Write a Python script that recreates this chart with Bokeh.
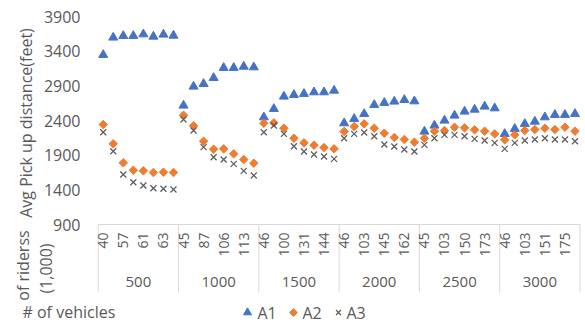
import math
from bokeh.plotting import figure
from bokeh.models import Range1d
from bokeh.core.properties import value
from bokeh.embed import file_html
from bokeh.resources import INLINE

# ---- data ----
groups = ["500", "1000", "1500", "2000", "2500", "3000"]
vehicle_labels = [
    ["40", "57", "61", "63"],
    ["45", "87", "106", "113"],
    ["46", "100", "131", "144"],
    ["46", "103", "145", "162"],
    ["45", "103", "150", "173"],
    ["46", "103", "151", "175"],
]
a1 = [3347, 3597, 3621, 3621, 3644, 3611, 3640, 3625,
      2616, 2890, 2929, 3015, 3160, 3160, 3178, 3168,
      2447, 2568, 2746, 2770, 2785, 2808, 2808, 2832,
      2361, 2424, 2496, 2626, 2655, 2674, 2698, 2678,
      2241, 2328, 2400, 2472, 2530, 2558, 2602, 2577,
      2207, 2280, 2352, 2385, 2447, 2482, 2482, 2496]
a2 = [2342, 2064, 1790, 1683, 1674, 1650, 1654, 1650,
      2476, 2323, 2101, 1986, 1991, 1919, 1837, 1784,
      2361, 2366, 2289, 2144, 2078, 2044, 2010, 1991,
      2241, 2313, 2352, 2289, 2217, 2155, 2126, 2087,
      2144, 2246, 2256, 2303, 2294, 2265, 2246, 2207,
      2121, 2193, 2256, 2270, 2289, 2270, 2303, 2246]
a3 = [2231, 1957, 1621, 1510, 1462, 1423, 1415, 1405,
      2414, 2256, 2015, 1870, 1837, 1775, 1674, 1607,
      2231, 2328, 2207, 2029, 1953, 1909, 1881, 1847,
      2144, 2207, 2227, 2173, 2054, 2025, 1982, 1953,
      2049, 2144, 2193, 2193, 2173, 2135, 2111, 2078,
      1991, 2078, 2111, 2126, 2144, 2126, 2126, 2101]
y_ticks = [900, 1400, 1900, 2400, 2900, 3400, 3900]
series_names = ["A1", "A2", "A3"]

per_group = 8
n = len(groups) * per_group
xs = list(range(n))

# ---- layout (pixel geometry of the canvas) ----
W, H = 585, 325
PLOT_L, PLOT_R = 97.7, 579.5      # category axis extent in px
PLOT_T, PLOT_B = 16.0, 224.0      # y value extent (3900 .. 900) in px
CAT_PX = (PLOT_R - PLOT_L) / n
Y_PX = (PLOT_B - PLOT_T) / (y_ticks[-1] - y_ticks[0])


def dx(px):
    return (px - PLOT_L) / CAT_PX - 0.5


def dy(py):
    return y_ticks[0] + (PLOT_B - py) / Y_PX


FONT = value("Open Sans")
GREY = "#595959"
LINE = "#d9d9d9"
C1, C2, C3 = "#4472C4", "#ED7D31", "#5a5a5a"

p = figure(width=W, height=H, output_backend="svg", toolbar_location=None,
           x_range=Range1d(dx(0), dx(W)), y_range=Range1d(dy(H), dy(0)),
           x_axis_type=None, y_axis_type=None,
           min_border_left=0, min_border_right=0, min_border_top=0, min_border_bottom=0)
p.outline_line_color = None
p.background_fill_color = "white"
p.border_fill_color = "white"

# y tick labels
p.text(x=[dx(80)] * len(y_ticks), y=y_ticks, text=[str(t) for t in y_ticks],
       text_align="right", text_baseline="middle", text_font=FONT,
       text_font_size="16px", text_color=GREY)

# category axis line and group separators
p.segment(x0=[-0.5], y0=[y_ticks[0]], x1=[n - 0.5], y1=[y_ticks[0]], line_color=LINE, line_width=1)
sep_x = [g * per_group - 0.5 for g in range(len(groups) + 1)]
p.segment(x0=sep_x, y0=[y_ticks[0]] * len(sep_x), x1=sep_x, y1=[dy(292)] * len(sep_x),
          line_color=LINE, line_width=1)

# vehicle tick labels (every other category)
tick_pos, tick_txt = [], []
for g, labs in enumerate(vehicle_labels):
    for k, lab in enumerate(labs):
        tick_pos.append(g * per_group + 2 * k)
        tick_txt.append(lab)
p.text(x=tick_pos, y=[dy(232)] * len(tick_pos), text=tick_txt, angle=math.pi / 2,
       text_align="right", text_baseline="middle", text_font=FONT,
       text_font_size="14px", text_color=GREY)

# group labels
p.text(x=[g * per_group + (per_group - 1) / 2 for g in range(len(groups))],
       y=[dy(281)] * len(groups), text=groups,
       text_align="center", text_baseline="middle", text_font=FONT,
       text_font_size="15px", text_color=GREY)

# series
p.scatter(xs, a1, marker="triangle", size=9, color=C1)
p.scatter(xs, a2, marker="square", angle=math.pi / 4, size=6, color=C2)
p.scatter(xs, a3, marker="x", size=8.5, line_color=C3, line_width=1.2)

# axis titles
p.text(x=[dx(25)], y=[dy(122.5)], text=["Avg Pick up distance(feet)"], angle=math.pi / 2,
       text_align="center", text_baseline="middle", text_font=FONT,
       text_font_size="16px", text_color=GREY)
p.text(x=[dx(22)], y=[dy(265)], text=["of riderss"], angle=math.pi / 2,
       text_align="center", text_baseline="middle", text_font=FONT,
       text_font_size="16px", text_color=GREY)
p.text(x=[dx(45)], y=[dy(268)], text=["(1,000)"], angle=math.pi / 2,
       text_align="center", text_baseline="middle", text_font=FONT,
       text_font_size="16px", text_color=GREY)
p.text(x=[dx(22)], y=[dy(311)], text=["# of vehicles"],
       text_align="left", text_baseline="middle", text_font=FONT,
       text_font_size="16px", text_color=GREY)

# legend
ly = dy(312)
p.scatter([dx(247)], [ly], marker="triangle", size=8, color=C1)
p.scatter([dx(293)], [ly], marker="square", angle=math.pi / 4, size=5.5, color=C2)
p.scatter([dx(338)], [ly], marker="x", size=7, line_color=C3, line_width=1.2)
p.text(x=[dx(257), dx(302), dx(346)], y=[ly] * 3, text=series_names,
       text_align="left", text_baseline="middle", text_font=FONT,
       text_font_size="16px", text_color=GREY)

open("out.html", "w").write(file_html(p, INLINE))
